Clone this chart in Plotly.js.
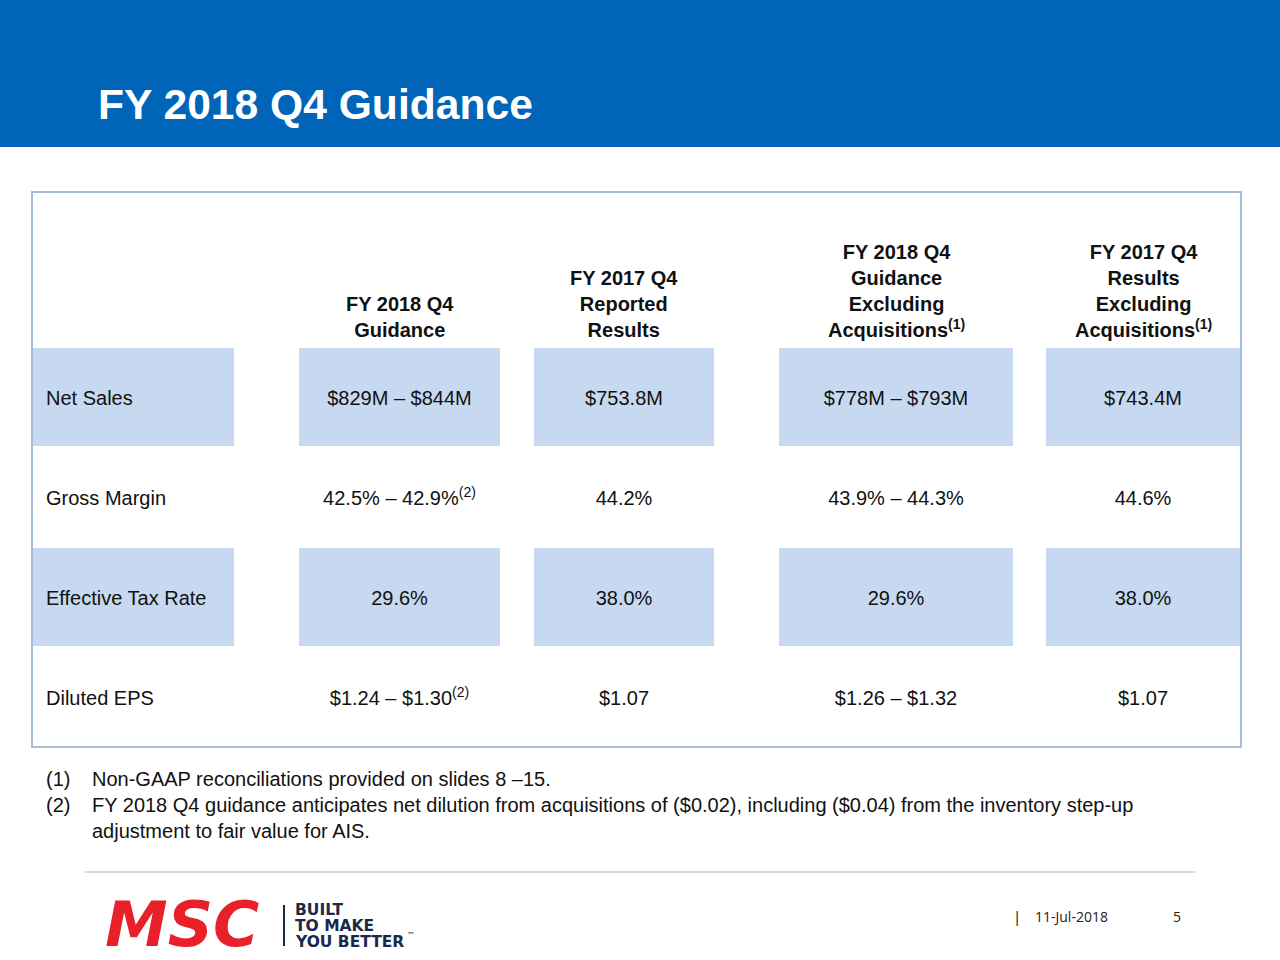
<!DOCTYPE html>
<html>
<head>
<meta charset="utf-8">
<script src="https://cdn.plot.ly/plotly-3.0.1.min.js"></script>
<style>html,body{margin:0;padding:0;background:#fff;overflow:hidden}#chart{width:1280px;height:960px}</style>
</head>
<body>
<div id="chart"></div>
<script>
// ---- data ----
const slideTitle = 'FY 2018 Q4 Guidance';
const rowLabels = ['Net Sales', 'Gross Margin', 'Effective Tax Rate', 'Diluted EPS'];
const colHeaders = [
  'FY 2018 Q4<br>Guidance',
  'FY 2017 Q4<br>Reported<br>Results',
  'FY 2018 Q4<br>Guidance<br>Excluding<br>Acquisitions<sup>(1)</sup>',
  'FY 2017 Q4<br>Results<br>Excluding<br>Acquisitions<sup>(1)</sup>'
];
const guidance = ['$829M – $844M', '42.5% – 42.9%<sup>(2)</sup>', '29.6%', '$1.24 – $1.30<sup>(2)</sup>'];
const reported = ['$753.8M', '44.2%', '38.0%', '$1.07'];
const guidanceExAcq = ['$778M – $793M', '43.9% – 44.3%', '29.6%', '$1.26 – $1.32'];
const resultsExAcq = ['$743.4M', '44.6%', '38.0%', '$1.07'];
const footnoteMarks = ['(1)', '(2)'];
const footnotes = [
  'Non-GAAP reconciliations provided on slides 8 –15.',
  'FY 2018 Q4 guidance anticipates net dilution from acquisitions of ($0.02), including ($0.04) from the inventory step-up<br>adjustment to fair value for AIS.'
];
const logoName = 'MSC';
const logoTagline = ['BUILT', 'TO MAKE', 'YOU BETTER'];
const trademark = '™';
const footerDate = '11-Jul-2018';
const pageNumber = '5';

// ---- layout constants (positions / styles) ----
const FONT = 'Liberation Sans, Arial, sans-serif';
const BLUE = '#0064B8';
const SHADE = '#C6D9F1';
const BORDER = '#A7BDD8';
const TXT = '#111111';
const colBounds = [[33, 234], [299, 500], [534, 714], [779, 1013], [1046, 1240]];
const rowTop0 = 348, rowH = 100, shadeH = 98;
const shadedRows = [0, 2];
const valueCols = [guidance, reported, guidanceExAcq, resultsExAcq];

const shapes = [];
const annotations = [];

// header band
shapes.push({type: 'rect', xref: 'x', yref: 'y', x0: 0, x1: 1280, y0: 0, y1: 147, fillcolor: BLUE, line: {width: 0}, layer: 'below'});
// shaded cells
shadedRows.forEach(r => {
  colBounds.forEach(c => {
    shapes.push({type: 'rect', xref: 'x', yref: 'y', x0: c[0], x1: c[1], y0: rowTop0 + r * rowH, y1: rowTop0 + r * rowH + shadeH, fillcolor: SHADE, line: {width: 0}, layer: 'below'});
  });
});
// table border
shapes.push({type: 'rect', xref: 'x', yref: 'y', x0: 32, x1: 1241, y0: 192, y1: 747, fillcolor: 'rgba(0,0,0,0)', line: {color: BORDER, width: 2}, layer: 'above'});
// footer separator
shapes.push({type: 'line', xref: 'x', yref: 'y', x0: 85, x1: 1195, y0: 872, y1: 872, line: {color: '#D9D9D9', width: 2}});
// logo divider
shapes.push({type: 'line', xref: 'x', yref: 'y', x0: 284, x1: 284, y0: 905, y1: 946, line: {color: '#1B2A4A', width: 2}});

// title
annotations.push({xref: 'x', yref: 'y', x: 96, y: 104, xanchor: 'left', yanchor: 'middle', showarrow: false,
  text: '<b>' + slideTitle + '</b>', font: {family: FONT, size: 42.6, color: '#FFFFFF'}});

// column headers
colHeaders.forEach((h, i) => {
  const c = colBounds[i + 1];
  annotations.push({xref: 'x', yref: 'y', x: (c[0] + c[1]) / 2, y: 343, xanchor: 'center', yanchor: 'bottom', showarrow: false,
    text: '<b>' + h + '</b>', align: 'center', font: {family: FONT, size: 20, color: TXT}});
});

// row labels
rowLabels.forEach((l, r) => {
  annotations.push({xref: 'x', yref: 'y', x: 44, y: rowTop0 + r * rowH + 50, xanchor: 'left', yanchor: 'middle', showarrow: false,
    text: l, font: {family: FONT, size: 20, color: TXT}});
});

// footnotes
footnoteMarks.forEach((m, i) => {
  const y = 766 + i * 26;
  annotations.push({xref: 'x', yref: 'y', x: 44, y: y, xanchor: 'left', yanchor: 'top', showarrow: false,
    text: m, font: {family: FONT, size: 20, color: TXT}});
  annotations.push({xref: 'x', yref: 'y', x: 90, y: y, xanchor: 'left', yanchor: 'top', showarrow: false, align: 'left',
    text: footnotes[i], font: {family: FONT, size: 20, color: TXT}});
});

// logo
annotations.push({xref: 'x', yref: 'y', x: 104, y: 924, xanchor: 'left', yanchor: 'middle', showarrow: false,
  height: 60, borderpad: 0, valign: 'middle',
  text: '<b><i>' + logoName + '</i></b>', font: {family: 'DejaVu Sans, sans-serif', size: 63, color: '#E8202A'}});
logoTagline.forEach((t, i) => {
  annotations.push({xref: 'x', yref: 'y', x: 294, y: 909 + i * 16, xanchor: 'left', yanchor: 'middle', showarrow: false,
    height: 15, borderpad: 0, valign: 'middle',
    text: '<b>' + t + '</b>', font: {family: 'DejaVu Sans, sans-serif', size: 15.5, color: '#1B2A4A'}});
});
annotations.push({xref: 'x', yref: 'y', x: 406, y: 935, xanchor: 'left', yanchor: 'middle', showarrow: false,
  borderpad: 0, text: trademark, font: {family: 'DejaVu Sans, sans-serif', size: 8, color: '#1B2A4A'}});

// footer
annotations.push({xref: 'x', yref: 'y', x: 1017, y: 916, xanchor: 'center', yanchor: 'middle', showarrow: false,
  text: '|', font: {family: 'Open Sans, sans-serif', size: 15, color: '#000'}});
annotations.push({xref: 'x', yref: 'y', x: 1033, y: 916, xanchor: 'left', yanchor: 'middle', showarrow: false,
  text: footerDate, font: {family: 'Open Sans, sans-serif', size: 14, color: '#222'}});
annotations.push({xref: 'x', yref: 'y', x: 1177, y: 916, xanchor: 'center', yanchor: 'middle', showarrow: false,
  text: pageNumber, font: {family: 'Open Sans, sans-serif', size: 14, color: '#222'}});

// cell values as text traces through the axes
const traces = valueCols.map((vals, i) => {
  const c = colBounds[i + 1];
  return {
    type: 'scatter', mode: 'text', hoverinfo: 'skip', showlegend: false,
    x: vals.map(() => (c[0] + c[1]) / 2),
    y: vals.map((v, r) => rowTop0 + r * rowH + 52),
    text: vals, textposition: 'middle center',
    textfont: {family: FONT, size: 20, color: TXT}
  };
});

const layout = {
  width: 1280, height: 960,
  margin: {l: 0, r: 0, t: 0, b: 0, pad: 0},
  paper_bgcolor: '#FFFFFF', plot_bgcolor: '#FFFFFF',
  xaxis: {range: [0, 1280], visible: false, fixedrange: true},
  yaxis: {range: [960, 0], visible: false, fixedrange: true},
  shapes: shapes, annotations: annotations,
  showlegend: false
};

Plotly.newPlot('chart', traces, layout, {staticPlot: true, displayModeBar: false});
</script>
</body>
</html>
